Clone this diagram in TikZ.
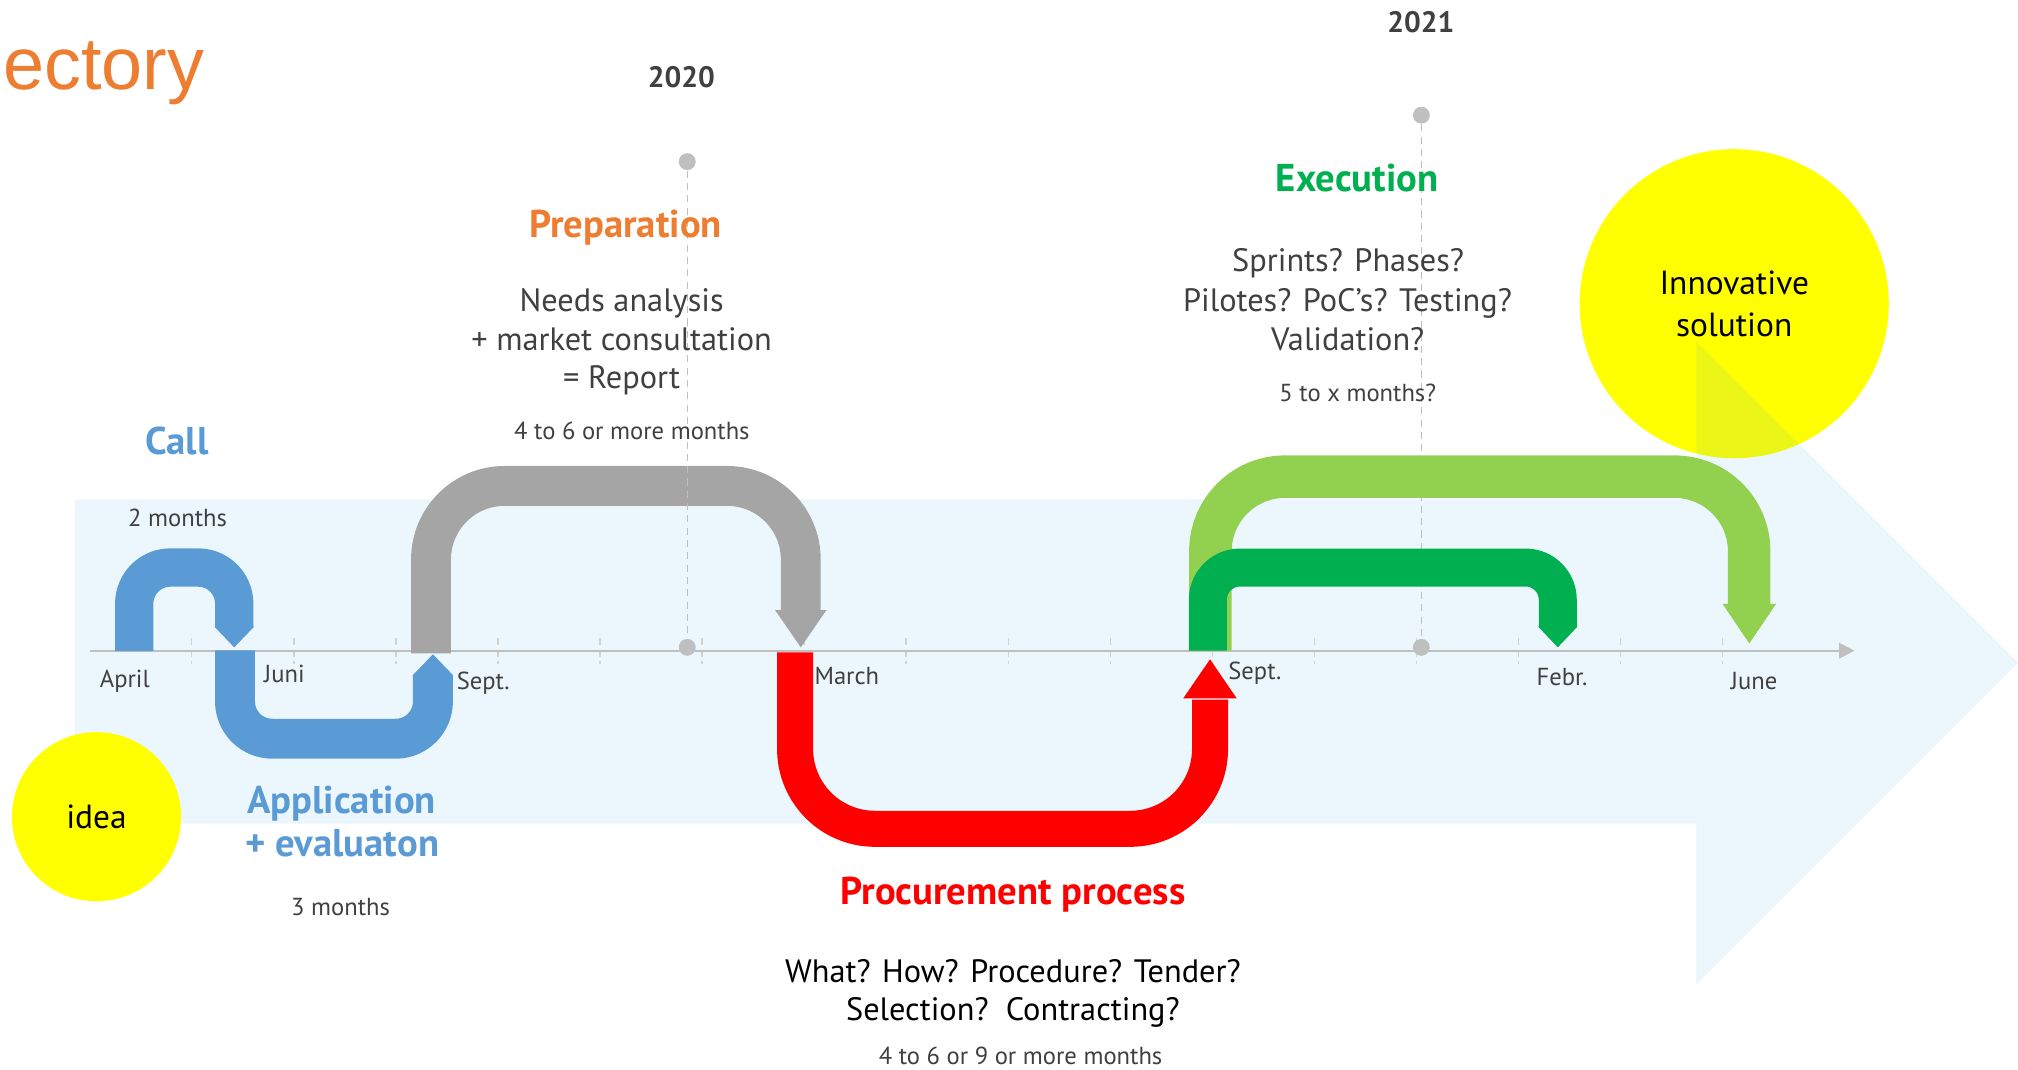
\documentclass[tikz,border=0pt]{standalone}
\usepackage{fontspec}
\setmainfont{PT Sans}
\newfontfamily\titlefont{Liberation Sans}
\usetikzlibrary{arrows.meta}
\definecolor{bgblue}{RGB}{65,175,235}
\definecolor{callblue}{RGB}{91,155,213}
\definecolor{prepgray}{RGB}{165,165,165}
\definecolor{procred}{RGB}{255,0,0}
\definecolor{execgreen}{RGB}{0,176,80}
\definecolor{lightgreen}{RGB}{146,208,80}
\definecolor{titleorange}{RGB}{237,125,49}
\definecolor{bubbleyellow}{RGB}{255,255,0}
\definecolor{txtgray}{RGB}{64,64,64}
\definecolor{axisgray}{RGB}{191,191,191}
\definecolor{tickgray}{RGB}{210,210,210}
\tikzstyle{txt} = [inner sep=0pt, anchor=base, text=txtgray, font=\fontsize{9.2}{10}\selectfont]
\tikzstyle{note} = [txt, font=\fontsize{7}{8}\selectfont]
\tikzstyle{head} = [txt, font=\bfseries\fontsize{11}{12}\selectfont]
\tikzstyle{year} = [txt, font=\bfseries\fontsize{8.4}{10}\selectfont]
\tikzstyle{band} = [line cap=butt, line join=round]
\tikzstyle{bubble} = [circle, fill=bubbleyellow, inner sep=0pt, text=black, align=center]
\tikzstyle{yeardot} = [circle, fill=axisgray, inner sep=0pt, minimum size=4.8pt]
\tikzstyle{yearline} = [axisgray, line width=0.4pt, dash pattern=on 2pt off 1.5pt]

\begin{document}
\begin{tikzpicture}[x=0.01287cm, y=-0.01287cm]
  \useasboundingbox (0,0) rectangle (1568,831);

  \node[bubble, minimum size=87.9pt, font=\fontsize{9.5}{12.1}\selectfont] (sol) at (1347.5,236) {Innovative\\solution};
  \fill[bgblue, fill opacity=0.1] (58,388) -- (1318,388) -- (1318,265) -- (1568,515)
      -- (1318,765) -- (1318,640) -- (58,640) -- cycle;

  \foreach \k in {0,...,15}
    \draw[tickgray, line width=0.4pt, dash pattern=on 2pt off 1.2pt] ({149+79.3*\k},496) -- ({149+79.3*\k},516);
  \coordinate (axisL) at (70,505.6);
  \coordinate (axisR) at (1441,505.6);
  \draw[axisgray, line width=0.6pt, -{Triangle[length=4.4pt,width=4.4pt]}] (axisL) -- (axisR);

  \coordinate (apr) at (104.3,506);
  \coordinate (jun) at (182.6,505.3);
  \coordinate (sep) at (334.9,507.6);
  \coordinate (mar) at (617.8,506.9);
  \coordinate (sepb) at (940.5,505.6);
  \coordinate (sepc) at (938.5,505.6);

  \draw[band, prepgray, line width=11.35pt, rounded corners=20.9pt]
      (sep) -- ++(0,-130) -- ++(287.3,0) -- ++(0,97.4);
  \fill[prepgray] (602.2,474) -- (622.2,503) -- (642.2,474) -- cycle;

  \draw[band, procred, line width=10.25pt, rounded corners=22.7pt]
      (mar) -- ++(0,137.1) -- ++(322.4,0) -- ++(0,-100.4);
  \fill[procred] (919.4,542.6) -- (940.2,512.3) -- (960.9,542.6) -- cycle;

  \draw[band, callblue, line width=10.9pt, rounded corners=10.25pt]
      (apr) -- ++(0,-65) -- ++(77.7,0) -- ++(0,46.4);
  \fill[callblue] (167,486.4) -- (167,487.4) -- (182,503) -- (197,487.4) -- (197,486.4) -- cycle;

  \draw[band, callblue, line width=11.35pt, rounded corners=10.6pt]
      (jun) -- ++(0,68.7) -- ++(153.8,0) -- ++(0,-49.5);
  \fill[callblue] (320.9,525.5) -- (320.9,524.5) -- (336.4,508.4) -- (351.9,524.5) -- (351.9,525.5) -- cycle;

  \node[yeardot] (top2020) at (534,125.6) {};
  \node[yeardot] (bot2020) at (534,503) {};
  \node[yeardot] (top2021) at (1104.4,89.5) {};
  \node[yeardot] (bot2021) at (1104.4,503) {};
  \draw[yearline] (top2020) -- (bot2020);
  \draw[yearline] (top2021) -- (bot2021);

  \draw[band, lightgreen, line width=12.1pt, rounded corners=21.2pt]
      (sepb) -- ++(0,-135.2) -- ++(418.6,0) -- ++(0,99.9);
  \fill[lightgreen] (1338.5,469.3) -- (1359.2,500) -- (1380,469.3) -- cycle;

  \draw[band, execgreen, line width=10.8pt, rounded corners=9.15pt]
      (sepc) -- ++(0,-64.6) -- ++(271.9,0) -- ++(0,46.4);
  \fill[execgreen] (1195.6,486.4) -- (1195.6,487.4) -- (1210.4,503) -- (1225.2,487.4) -- (1225.2,486.4) -- cycle;

  \node[bubble, minimum size=48.1pt, font=\fontsize{9.5}{10}\selectfont] (idea) at (75,634.6) {idea};

  \node[txt, anchor=base west, text=titleorange, font=\titlefont\fontsize{21}{26}\selectfont] (title) at (2,69.9) {ectory};
  \node[year] (y2020) at (529.4,67.8) {2020};
  \node[year] (y2021) at (1104,25) {2021};

  \node[head, text=titleorange] (prep) at (486,184.4) {Preparation};
  \node[txt] (prep1) at (483,242.2) {Needs analysis};
  \node[txt] (prep2) at (483,272) {+ market consultation};
  \node[txt] (prep3) at (483,301.7) {= Report};
  \node[note] (prepdur) at (491,341.4) {4 to 6 or more months};

  \node[head, text=callblue] (call) at (137.4,353.5) {Call};
  \node[note] (calldur) at (138,409.3) {2 months};
  \node[head, text=callblue] (appl) at (265.4,632) {Application};
  \node[head, text=callblue] (appl2) at (266,665.7) {+ evaluaton};
  \node[note] (appldur) at (264.6,711) {3 months};

  \node[head, text=procred] (proc) at (787,703.2) {Procurement process};
  \node[txt, text=black] (proc1) at (787,763.5) {What? How? Procedure? Tender?};
  \node[txt, text=black] (proc2) at (787,793) {Selection?\ \ Contracting?};
  \node[note] (procdur) at (793,827.5) {4 to 6 or 9 or more months};

  \node[head, text=execgreen] (exec) at (1054.5,148.9) {Execution};
  \node[txt] (exec1) at (1047.5,211) {Sprints? Phases?};
  \node[txt] (exec2) at (1047,242.2) {Pilotes? PoC’s? Testing?};
  \node[txt] (exec3) at (1047.2,272.2) {Validation?};
  \node[note] (execdur) at (1055,312.1) {5 to x months?};

  \node[note] (mApr) at (97,534) {April};
  \node[note] (mJun) at (221,530.2) {Juni};
  \node[note] (mSep) at (375.5,536) {Sept.};
  \node[note] (mMar) at (658,532.2) {March};
  \node[note] (mSepb) at (975,527.6) {Sept.};
  \node[note] (mFeb) at (1213.7,532.6) {Febr.};
  \node[note] (mJune) at (1363,535.5) {June};
\end{tikzpicture}
\end{document}
